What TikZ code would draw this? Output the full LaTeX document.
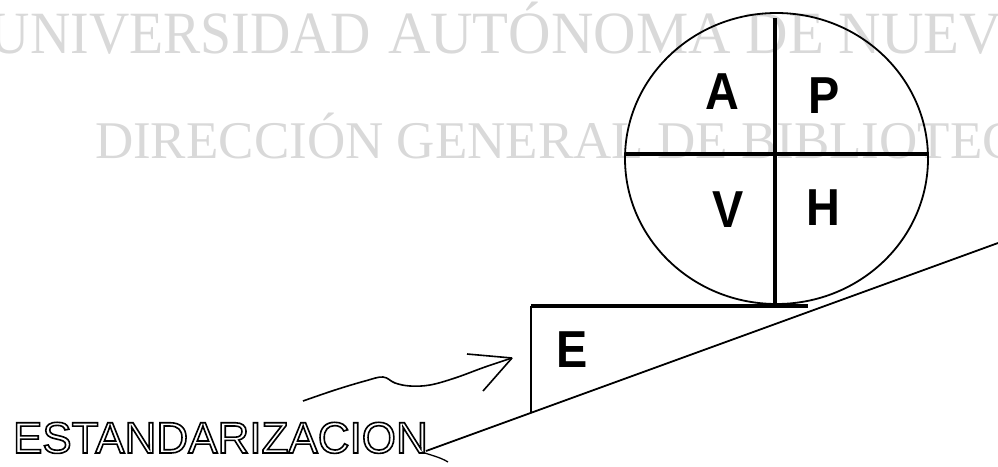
\documentclass[tikz,border=0pt]{standalone}
\usepackage{fontspec}
\setmainfont{Liberation Serif}
\newfontfamily\sansf{Liberation Sans}
\usetikzlibrary{shapes.geometric}
\newcommand\hollowtext[1]{\special{pdf:literal direct 1 Tr 1.6 w}#1\special{pdf:literal direct 0 Tr}}
\tikzset{
  wmark/.style={text=black!15, inner sep=0pt, outer sep=0pt, anchor=base west},
  quadletter/.style={inner sep=0pt, outer sep=0pt, font=\sansf\bfseries\fontsize{52}{52}\selectfont, xscale=0.9},
  crossline/.style={line width=4pt},
  thinline/.style={line width=1.8pt},
}
\begin{document}
\begin{tikzpicture}[x=1pt,y=-1pt]
\useasboundingbox (0,0) rectangle (998,466);
\begin{scope}
  \clip (0,0) rectangle (998,466);
  \node[wmark, font=\fontsize{60}{60}\selectfont, xscale=0.93] (wm1a) at (-10,53) {UNIVERSIDAD};
  \node[wmark, font=\fontsize{60}{60}\selectfont, xscale=0.98] (wm1b) at (388,53) {AUTÓNOMA DE NUEV};
  \node[wmark, font=\fontsize{53}{53}\selectfont, xscale=1.0] (wm2) at (95,158) {DIRECCIÓN GENERAL DE BIBLIOTEC};
\end{scope}

% wheel
\node[ellipse, draw, thinline, minimum width=303pt, minimum height=291pt, inner sep=0pt, outer sep=0pt] (wheel) at (776.5,158.5) {};
\draw[crossline] ([yshift=4.5pt]wheel.west) -- ([yshift=4.5pt]wheel.east);
\coordinate (vtop) at (775,18);
\coordinate (vbot) at (775,306);
\draw[crossline] (vtop) -- (vbot);

\node[quadletter] (A) at (722,92) {A};
\node[quadletter] (P) at (824,96) {P};
\node[quadletter] (V) at (728,210) {V};
\node[quadletter] (H) at (823,208) {H};

% wedge / step
\coordinate (boxTL) at (531,306);
\coordinate (boxTR) at (808,306);
\coordinate (boxBL) at (531,413);
\coordinate (s0) at (426,451);
\coordinate (s1) at (998,243);
\draw[line width=3.5pt] (boxTL) -- (boxTR);
\draw[line width=2pt] (boxTL) -- (boxBL);
\draw[thinline] (s0) -- (s1);
\coordinate (h0) at (422,452);
\coordinate (h1) at (448,462);
\draw[line width=1.3pt] (h0) .. controls (430,455) and (440,457) .. (h1);

\node[quadletter] (E) at (572,350) {E};

% hand drawn arrow
\coordinate (atail) at (303,401);
\coordinate (atip) at (512,358);
\coordinate (barb1) at (467,354);
\coordinate (barb2) at (483,391);
\draw[line width=1.6pt] plot[smooth, tension=0.6] coordinates {(atail) (335,390) (365,381) (383,377) (395,383) (410,386) (430,385) (455,378) (485,367) (atip)};
\draw[line width=1.6pt] (atip) -- (barb1);
\draw[line width=1.6pt] (atip) -- (barb2);

\node[anchor=base west, inner sep=0pt, outer sep=0pt, font=\sansf\fontsize{44}{44}\selectfont] (est) at (13,453) {\hollowtext{ESTANDARIZACION}};
\end{tikzpicture}
\end{document}
